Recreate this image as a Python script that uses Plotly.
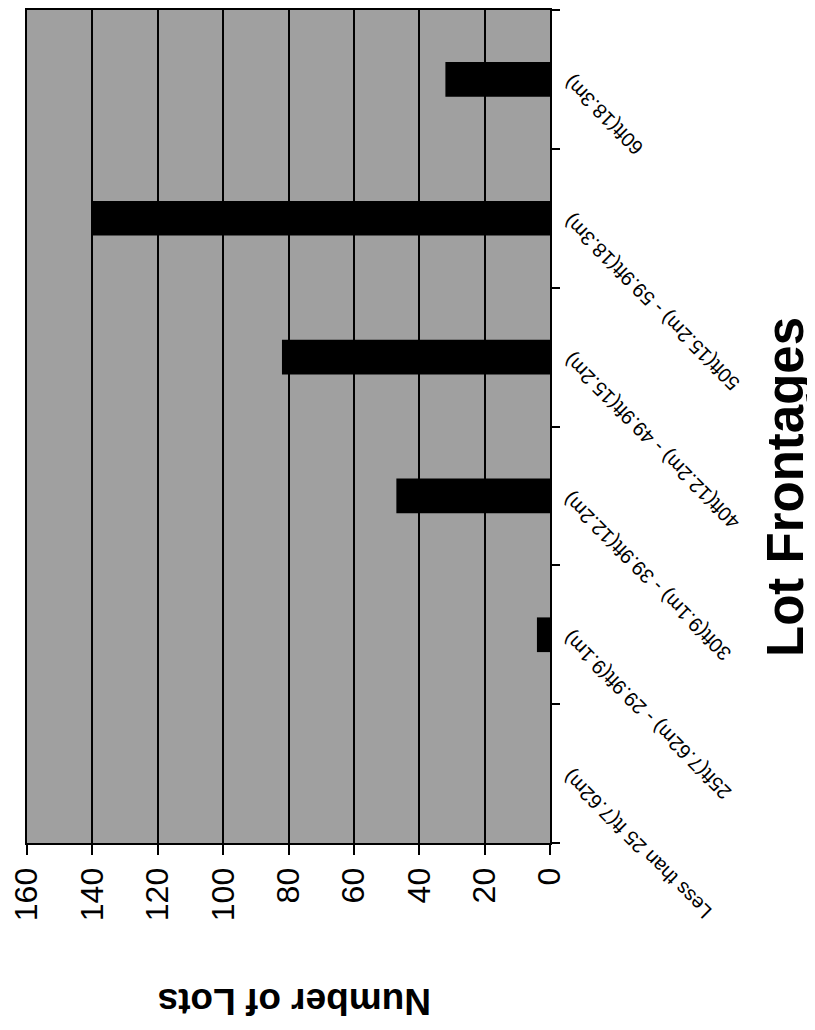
import math
import plotly.graph_objects as go

categories = [
    "Less than 25 ft(7.62m)",
    "25ft(7.62m) - 29.9ft(9.1m)",
    "30ft(9.1m) - 39.9ft(12.2m)",
    "40ft(12.2m) - 49.9ft(15.2m)",
    "50ft(15.2m) - 59.9ft(18.3m)",
    "60ft(18.3m)",
]
lots = [0, 4, 47, 82, 140, 32]
value_ticks = [0, 20, 40, 60, 80, 100, 120, 140, 160]

# approximate Arial advance widths (em) for label layout
ARIAL_W = {c: 0.556 for c in "0123456789"}
ARIAL_W.update({".": 0.278, "f": 0.278, "t": 0.278, "(": 0.333, ")": 0.333,
                "m": 0.833, " ": 0.278, "-": 0.333, "L": 0.556, "e": 0.556,
                "s": 0.5, "h": 0.556, "a": 0.556, "n": 0.556})


def text_width(s, size):
    return sum(ARIAL_W.get(ch, 0.556) for ch in s) * size


LABEL_SIZE = 20
FONT = "Arial, Liberation Sans"

fig = go.Figure()
fig.add_trace(go.Bar(
    y=categories, x=lots, orientation="h",
    marker=dict(color="black", line=dict(width=0)),
    width=0.25,
))

annotations = []
k = math.cos(math.radians(45))
for c in categories:
    half = text_width(c, LABEL_SIZE) / 2
    annotations.append(dict(
        x=1, xref="paper", y=c, yref="y",
        text=c, showarrow=False, textangle=-135,
        xanchor="center", yanchor="middle",
        xshift=17 + half * k, yshift=-half * k,
        font=dict(family=FONT, size=LABEL_SIZE, color="black"),
    ))
annotations.append(dict(
    x=(293 - 25) / 525, xref="paper", y=(843 - 1002) / 835, yref="paper",
    text="<b>Number of Lots</b>", showarrow=False, textangle=180,
    xanchor="center", yanchor="middle",
    font=dict(family=FONT, size=37, color="black"),
))
annotations.append(dict(
    x=(787 - 25) / 525, xref="paper", y=(843 - 486) / 835, yref="paper",
    text="<b>Lot Frontages</b>", showarrow=False, textangle=-90,
    xanchor="center", yanchor="middle",
    font=dict(family=FONT, size=51, color="black"),
))

fig.update_layout(
    width=807, height=1022,
    margin=dict(l=17, r=265, t=0, b=187),
    paper_bgcolor="white", plot_bgcolor="#a0a0a0",
    showlegend=False,
    annotations=annotations,
    xaxis=dict(
        range=[160, 0], autorange=False,
        tickvals=value_ticks, ticktext=[str(v) for v in value_ticks],
        tickangle=-90, ticks="outside", ticklen=10, tickwidth=2, tickcolor="black",
        ticklabeloverflow="allow",
        showgrid=True, gridcolor="black", gridwidth=2,
        showline=True, linecolor="black", linewidth=2, mirror=True,
        zeroline=False,
        tickfont=dict(family=FONT, size=32, color="black"),
    ),
    yaxis=dict(
        categoryorder="array", categoryarray=categories,
        range=[-0.5, len(categories) - 0.5], autorange=False,
        side="right", showticklabels=False,
        ticks="outside", tickson="boundaries", ticklen=8, tickwidth=2, tickcolor="black",
        showgrid=False, showline=True, linecolor="black", linewidth=2, mirror=True,
        zeroline=False,
    ),
)

fig.write_html("out.html")
